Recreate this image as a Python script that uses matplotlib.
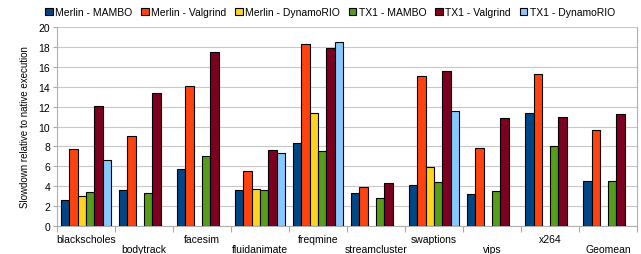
import numpy as np
import matplotlib
matplotlib.use("Agg")
import matplotlib.pyplot as plt

plt.rcParams['font.family'] = ['Liberation Sans', 'DejaVu Sans']

benchmarks = ["blackscholes", "bodytrack", "facesim", "fluidanimate", "freqmine",
              "streamcluster", "swaptions", "vips", "x264", "Geomean"]
series_names = ["Merlin - MAMBO", "Merlin - Valgrind", "Merlin - DynamoRIO",
                "TX1 - MAMBO", "TX1 - Valgrind", "TX1 - DynamoRIO"]
nan = np.nan
merlin_mambo = [2.6, 3.6, 5.7, 3.6, 8.3, 3.3, 4.1, 3.2, 11.4, 4.5]
merlin_valgrind = [7.7, 9.0, 14.1, 5.5, 18.3, 3.9, 15.1, 7.8, 15.3, 9.6]
merlin_dynamorio = [3.0, nan, nan, 3.7, 11.4, nan, 5.9, nan, nan, nan]
tx1_mambo = [3.4, 3.3, 7.0, 3.6, 7.5, 2.8, 4.4, 3.5, 8.0, 4.5]
tx1_valgrind = [12.1, 13.4, 17.5, 7.6, 17.9, 4.3, 15.6, 10.9, 11.0, 11.3]
tx1_dynamorio = [6.6, nan, nan, 7.3, 18.5, nan, 11.6, nan, nan, nan]
colors = ["#004586", "#ff420e", "#ffd320", "#579d1c", "#7e0021", "#83caff"]

series = [merlin_mambo, merlin_valgrind, merlin_dynamorio,
          tx1_mambo, tx1_valgrind, tx1_dynamorio]

fig = plt.figure(figsize=(6.41, 2.55), dpi=100)
ax = fig.add_axes([0.089, 0.111, 0.905, 0.778])

x = np.arange(len(benchmarks))
group_w = 0.86
bar_w = group_w / len(series)
for i, (vals, name, c) in enumerate(zip(series, series_names, colors)):
    offs = -group_w / 2 + bar_w * (i + 0.5)
    ax.bar(x + offs, vals, width=bar_w, color=c, edgecolor="black",
           linewidth=0.8, label=name, zorder=3)

ax.set_xlim(-0.5, len(benchmarks) - 0.5)
ax.set_ylim(0, 20)
ax.set_yticks(np.arange(0, 21, 2))
ax.yaxis.grid(True, color="#c8c8c8", linewidth=0.8, zorder=0)
ax.tick_params(axis="y", labelsize=7.5, length=3, color="#aaaaaa", pad=2)

# category boundary ticks, labels staggered
ax.set_xticks(np.arange(-0.5, len(benchmarks), 1.0))
ax.set_xticklabels([])
ax.tick_params(axis="x", length=4, color="#aaaaaa")
for i, b in enumerate(benchmarks):
    ypos = -0.04 if i % 2 == 0 else -0.09
    ax.text(i, ypos, b, transform=ax.get_xaxis_transform(), ha="center",
            va="top", fontsize=7.5)

for s in ["left", "bottom", "right", "top"]:
    ax.spines[s].set_color("#b0b0b0")
    ax.spines[s].set_linewidth(0.8)
ax.spines["top"].set_visible(False)

ax.set_ylabel("Slowdown relative to native execution", fontsize=7, labelpad=6)

fig.legend(loc="upper center", bbox_to_anchor=(0.515, 1.0), ncol=6, fontsize=7.5,
           frameon=False, handlelength=0.7, handleheight=0.7, handletextpad=0.25,
           columnspacing=0.85, borderaxespad=0.35)

fig.savefig("out.png", dpi=100)
